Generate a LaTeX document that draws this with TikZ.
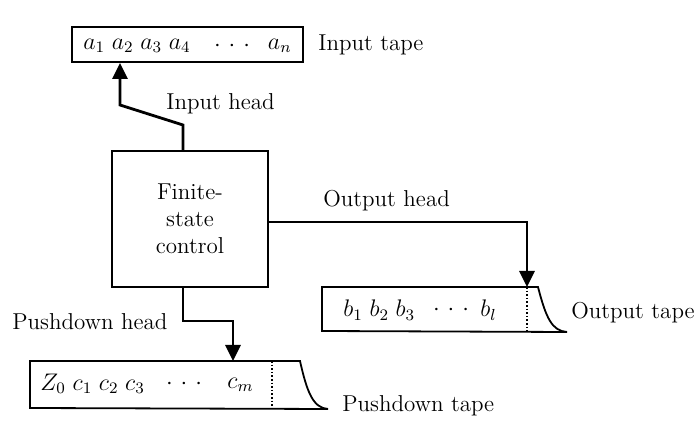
\documentclass[tikz,border=0pt]{standalone}
\usetikzlibrary{arrows.meta}
\newcommand{\sep}{\mkern5mu}
\newcommand{\spdots}{{\cdot}\mkern6mu{\cdot}\mkern6mu{\cdot}}
\begin{document}
\begin{tikzpicture}
[x=0.5pt, y=-0.5pt, font=\fontsize{11.5}{13.5}\selectfont]
\tikzstyle{box}=[draw, line width=0.9pt, inner sep=0pt]
\tikzstyle{head}=[line width=1.4pt, -{Triangle[length=8pt,width=7.5pt]}]
\tikzstyle{lbl}=[anchor=west, inner sep=0pt]
\tikzstyle{sym}=[inner sep=0pt]
\useasboundingbox (0,0) rectangle (698,422);

% input tape
\node[box, minimum width=115.5pt, minimum height=17.5pt] (IT) at (187.5,44.5) {};
\node[lbl]	(a14)	at (83,46)	{$a_1\sep a_2\sep a_3\sep a_4$};
\node[sym]	(adots)	at (232,46)	{$\spdots$};
\node[sym, anchor=east]	(an)	at (292,46)	{$a_n$};
\node[lbl]	(ITl)	at (318,45)	{Input tape};

% finite-state control
\node[box, minimum width=78pt, minimum height=68pt, align=center] (FC) at (190,219) {Finite-\\state\\control};

% output tape
\coordinate (OTtop) at (527,287);
\coordinate (OTbot) at (527,331);
\draw[line width=0.9pt] (322,287) -- (538,287) .. controls (546,318) and (552,331) .. (567,332) -- (322,331) -- cycle;
\draw[densely dotted, line width=0.8pt] (OTtop) -- (OTbot);
\node[lbl]	(b13)	at (343,310)	{$b_1\sep b_2\sep b_3$};
\node[sym]	(bdots)	at (451,310)	{$\spdots$};
\node[sym, anchor=east]	(bl)	at (497,310)	{$b_l$};
\node[lbl]	(OTl)	at (571,313)	{Output tape};

% pushdown tape
\coordinate (PTtop) at (233,361);
\draw[line width=0.9pt] (30,361) -- (300,361) .. controls (307,392) and (313,408) .. (328,409) -- (30,408) -- cycle;
\draw[densely dotted, line width=0.8pt] (272,361) -- (272,408);
\node[lbl]	(zc)	at (40,384)	{$Z_0\sep c_1\sep c_2\sep c_3$};
\node[sym]	(cdots)	at (184,384)	{$\spdots$};
\node[sym, anchor=east]	(cm)	at (254,385)	{$c_m$};
\node[lbl]	(PTl)	at (342,406)	{Pushdown tape};

% heads
\coordinate (ih1) at (183,125);
\coordinate (ih2) at (120,105);
\draw[head] (FC.north -| ih1) -- (ih1) -- (ih2) -- (ih2 |- IT.south);
\node[lbl]	(IHl)	at (166,104)	{Input head};

\coordinate (oh) at (527,222);
\draw[head] (FC.east |- oh) -- (oh) -- (OTtop);
\node[lbl]	(OHl)	at (323,201)	{Output head};

\coordinate (ph1) at (183,321);
\coordinate (ph2) at (233,321);
\draw[head] (FC.south -| ph1) -- (ph1) -- (ph2) -- (PTtop);
\node[lbl]	(PHl)	at (12,322)	{Pushdown head};

\end{tikzpicture}
\end{document}
